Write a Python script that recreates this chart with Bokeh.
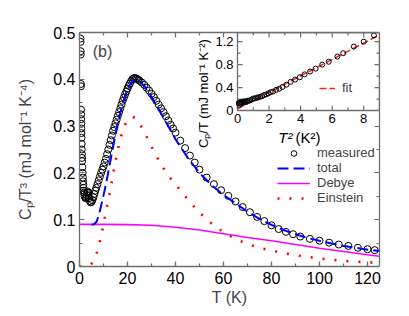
import math
from bokeh.plotting import figure
from bokeh.models import (Range1d, LinearAxis, SingleIntervalTicker, FixedTicker,
                          Legend, LegendItem, Label, CustomJSTickFormatter)
from bokeh.core.properties import value
from bokeh.embed import file_html
from bokeh.resources import INLINE

FONT = "Liberation Sans"
AX = "#6e6e6e"

# ---------------- main panel data ----------------
T_meas = [0.42, 0.45, 0.50, 0.52, 0.58, 0.60, 0.65, 0.68, 0.70, 0.73, 0.76, 0.80, 0.85,
          0.90, 0.95, 1.0, 1.05, 1.1, 1.2, 1.3, 1.4, 1.5, 1.6, 1.7, 1.8, 1.9, 2.0, 2.2,
          2.4, 2.6, 2.8, 3.0, 3.2, 3.4, 3.6, 3.8, 4.0, 4.3, 4.6, 5.0, 5.4, 5.8, 6.2, 6.6,
          7.0, 7.5, 8.0, 8.5, 9.0, 9.5, 10, 10.5, 11, 11.5, 12, 12.5, 13, 13.5, 14, 14.5,
          15, 15.5, 16, 16.5, 17, 17.5, 18, 18.5, 19, 19.5, 20, 20.5, 21, 21.5, 22, 22.5,
          23, 23.5, 24, 24.5, 25, 26, 27, 28, 29, 30, 31, 32, 33, 34, 35, 36, 37, 38, 39,
          40, 42, 44, 46, 48, 50, 53, 56, 59, 62, 65, 68, 71, 74, 77, 80, 83, 86, 89, 92,
          96, 100, 104, 108, 112, 116, 120, 123]
cp_meas = [0.487, 0.480, 0.460, 0.453, 0.390, 0.385, 0.335, 0.325, 0.315, 0.305, 0.295,
           0.285, 0.275, 0.262, 0.250, 0.240, 0.232, 0.225, 0.212, 0.200, 0.190, 0.182,
           0.175, 0.168, 0.162, 0.158, 0.155, 0.150, 0.147, 0.146, 0.148, 0.152, 0.157,
           0.160, 0.158, 0.152, 0.146, 0.140, 0.137, 0.138, 0.142, 0.148, 0.155, 0.162,
           0.168, 0.176, 0.184, 0.192, 0.200, 0.207, 0.214, 0.222, 0.230, 0.240, 0.250,
           0.260, 0.270, 0.280, 0.290, 0.298, 0.306, 0.314, 0.322, 0.330, 0.338, 0.346,
           0.354, 0.361, 0.368, 0.374, 0.380, 0.386, 0.391, 0.396, 0.400, 0.402, 0.403,
           0.402, 0.401, 0.399, 0.397, 0.393, 0.388, 0.382, 0.376, 0.369, 0.362, 0.354,
           0.346, 0.338, 0.330, 0.321, 0.312, 0.303, 0.295, 0.286, 0.269, 0.253, 0.237,
           0.222, 0.207, 0.190, 0.176, 0.163, 0.151, 0.139, 0.127, 0.116, 0.106, 0.097,
           0.088, 0.080, 0.074, 0.069, 0.064, 0.059, 0.055, 0.051, 0.047, 0.044, 0.040,
           0.037, 0.035]

T_total = [5, 6, 7, 8, 9, 10, 11, 12, 13, 14, 15, 16, 17, 18, 19, 20, 21, 22, 23, 24, 25,
           27, 30, 33, 36, 40, 45, 50, 55, 60, 65, 70, 75, 80, 85, 90, 95, 100, 105, 110,
           115, 120, 125]
cp_total = [0.090, 0.090, 0.095, 0.108, 0.130, 0.152, 0.175, 0.202, 0.229, 0.256, 0.282,
            0.306, 0.328, 0.348, 0.365, 0.378, 0.388, 0.395, 0.399, 0.399, 0.396, 0.386,
            0.362, 0.336, 0.309, 0.272, 0.233, 0.200, 0.174, 0.153, 0.135, 0.117, 0.102,
            0.089, 0.078, 0.069, 0.061, 0.055, 0.049, 0.044, 0.040, 0.036, 0.033]

T_debye = [0, 10, 20, 30, 40, 50, 60, 70, 80, 90, 100, 110, 120, 125]
cp_debye = [0.090, 0.090, 0.0895, 0.088, 0.084, 0.078, 0.070, 0.062, 0.055, 0.047, 0.039,
            0.032, 0.025, 0.022]

T_einstein = [0, 2, 4, 5, 6, 7, 8, 9, 10, 11, 12, 13, 14, 15, 16, 17, 18, 19, 20, 21, 22,
              23, 24, 25, 26, 28, 30, 32, 35, 38, 42, 46, 50, 55, 60, 65, 70, 75, 80, 90,
              100, 110, 120, 125]
cp_einstein = [0.0, 0.0, 0.002, 0.006, 0.014, 0.025, 0.043, 0.065, 0.090, 0.117, 0.142,
               0.168, 0.197, 0.225, 0.250, 0.272, 0.290, 0.303, 0.312, 0.318, 0.320, 0.318,
               0.313, 0.305, 0.297, 0.277, 0.256, 0.236, 0.210, 0.188, 0.163, 0.138, 0.115,
               0.092, 0.073, 0.059, 0.048, 0.040, 0.034, 0.024, 0.017, 0.012, 0.009, 0.008]

# ---------------- inset data ----------------
T2_inset = [0.08, 0.12, 0.16, 0.2, 0.25, 0.3, 0.36, 0.42, 0.49, 0.56, 0.64, 0.72, 0.81,
            0.9, 1.0, 1.1, 1.21, 1.32, 1.44, 1.56, 1.69, 1.82, 1.96, 2.1, 2.25, 2.45, 2.65,
            2.85, 3.1, 3.37, 3.65, 3.95, 4.25, 4.6, 4.95, 5.37, 5.78, 6.33, 6.7, 7.37, 8.0,
            8.65]
cpT_inset = [0.13, 0.10, 0.14, 0.12, 0.15, 0.13, 0.16, 0.14, 0.16, 0.15, 0.17, 0.17, 0.18,
             0.19, 0.21, 0.21, 0.22, 0.23, 0.24, 0.25, 0.27, 0.28, 0.30, 0.32, 0.33, 0.36,
             0.38, 0.41, 0.45, 0.50, 0.54, 0.58, 0.63, 0.68, 0.73, 0.80, 0.85, 0.94, 1.00,
             1.115, 1.20, 1.31]
fit_T2 = [0, 9]
fit_cpT = [0.03, 1.32]

main_x_ticks_top = [0, 20, 40, 60]
main_x_minor_top = [10, 30, 50]
main_y_ticks_right = [0.0, 0.1, 0.2, 0.3]
main_y_minor_right = [0.05, 0.15, 0.25]

inset_xlim = [0, 9]
inset_ylim = [0, 1.36]
inset_x_major = [0, 2, 4, 6, 8]
inset_x_minor = [1, 3, 5, 7]
inset_y_major = [0, 0.4, 0.8, 1.2]
inset_y_minor = [0.2, 0.6, 1.0]
inset_x_labels = ["0", "2", "4", "6", "8"]
inset_y_labels = ["0", "0.4", "0.8", "1.2"]

# ---------------- figure ----------------
FL, FT = 79, 32            # frame left/top on the page
FW, FH = 300, 234
FB = 48
W, H = FL + FW + 22, FT + FH + FB
p = figure(width=W, height=H, output_backend="svg",
           toolbar_location=None,
           x_range=Range1d(0, 125), y_range=Range1d(0, 0.5),
           min_border_left=FL, min_border_right=22, min_border_top=FT,
           min_border_bottom=FB, x_axis_location=None, y_axis_location=None)
p.grid.visible = False
p.outline_line_color = None
p.background_fill_color = "white"


def style(ax, fs="16px"):
    ax.axis_line_color = AX
    ax.axis_line_width = 1.3
    ax.major_tick_line_color = AX
    ax.minor_tick_line_color = AX
    ax.major_tick_line_width = 1.2
    ax.minor_tick_line_width = 1.2
    ax.major_tick_in = 5
    ax.major_tick_out = 0
    ax.minor_tick_in = 3
    ax.minor_tick_out = 0
    ax.major_label_text_font = FONT
    ax.major_label_text_font_size = fs
    ax.major_label_text_color = "black"


blank = CustomJSTickFormatter(code="return ''")

xb = LinearAxis(ticker=SingleIntervalTicker(interval=20, num_minor_ticks=2))
style(xb)
xb.major_label_standoff = 5
xb.axis_label = "T (K)"
xb.axis_label_text_font = FONT
xb.axis_label_text_font_size = "16px"
xb.axis_label_text_font_style = "normal"
xb.axis_label_standoff = 2
p.add_layout(xb, "below")

yl = LinearAxis(ticker=SingleIntervalTicker(interval=0.1, num_minor_ticks=2),
                formatter=CustomJSTickFormatter(code="return tick == 0 ? '0' : tick.toFixed(1)"))
style(yl)
yl.major_label_standoff = 4
yl.axis_label = "Cₚ/T³ (mJ mol⁻¹ K⁻⁴)"
yl.axis_label_text_font = FONT
yl.axis_label_text_font_size = "16px"
yl.axis_label_text_font_style = "normal"
yl.axis_label_standoff = 16
p.add_layout(yl, "left")

xt = LinearAxis(ticker=FixedTicker(ticks=main_x_ticks_top, minor_ticks=main_x_minor_top),
                formatter=blank)
style(xt)
xt.major_label_standoff = 0
p.add_layout(xt, "above")

yr = LinearAxis(ticker=FixedTicker(ticks=main_y_ticks_right, minor_ticks=main_y_minor_right),
                formatter=blank)
style(yr)
yr.major_label_standoff = 0
p.add_layout(yr, "right")

# main curves
r_meas = p.scatter(T_meas, cp_meas, marker="circle", size=7, fill_color=None,
                   line_color="black", line_width=1)
r_deb = p.line(T_debye, cp_debye, line_color="#ff00ff", line_width=1.6)
r_ein = p.line(T_einstein, cp_einstein, line_color="#ff0000", line_width=2.6,
               line_dash="2 10")
r_tot = p.line(T_total, cp_total, line_color="#0000ff", line_width=2, line_dash="11 5")

leg = Legend(items=[LegendItem(label="measured", renderers=[r_meas]),
                    LegendItem(label="total", renderers=[r_tot]),
                    LegendItem(label="Debye", renderers=[r_deb]),
                    LegendItem(label="Einstein", renderers=[r_ein])],
             location=(198, 61), orientation="vertical")
leg.glyph_width = 33
leg.glyph_height = 14
leg.label_height = 14
leg.label_standoff = 7
leg.spacing = 0
leg.padding = 0
leg.margin = 0
leg.border_line_color = None
leg.background_fill_alpha = 0
leg.label_text_font = FONT
leg.label_text_font_size = "13px"
leg.label_text_baseline = "middle"
p.add_layout(leg)

# ---------------- inset ----------------
xr0 = inset_xlim[0] - (237 - 79) / (FW - (237 - 79)) * (inset_xlim[1] - inset_xlim[0])
yr0 = inset_ylim[1] - FH / (110 - 32) * (inset_ylim[1] - inset_ylim[0])
p.extra_x_ranges = {"ix": Range1d(xr0, inset_xlim[1])}
p.extra_y_ranges = {"iy": Range1d(yr0, inset_ylim[1])}
kx = (inset_xlim[1] - xr0) / FW       # inset x units per pixel
ky = (inset_ylim[1] - yr0) / FH       # inset y units per pixel
I = dict(x_range_name="ix", y_range_name="iy")

p.quad(left=[inset_xlim[0]], right=[inset_xlim[1]], bottom=[inset_ylim[0]],
       top=[inset_ylim[1]], fill_color="white", line_color=AX, line_width=1.3, **I)


def xticks(vals, L):
    x0, x1, y0, y1 = [], [], [], []
    for v in vals:
        x0 += [v, v]; x1 += [v, v]
        y0 += [inset_ylim[0], inset_ylim[1]]
        y1 += [inset_ylim[0] + L * ky, inset_ylim[1] - L * ky]
    p.segment(x0, y0, x1, y1, line_color=AX, line_width=1.2, **I)


def yticks(vals, L):
    x0, x1, y0, y1 = [], [], [], []
    for v in vals:
        y0 += [v, v]; y1 += [v, v]
        x0 += [inset_xlim[0], inset_xlim[1]]
        x1 += [inset_xlim[0] + L * kx, inset_xlim[1] - L * kx]
    p.segment(x0, y0, x1, y1, line_color=AX, line_width=1.2, **I)


xticks(inset_x_major, 5)
xticks(inset_x_minor, 3)
yticks(inset_y_major, 5)
yticks(inset_y_minor, 3)

p.text(x=[inset_xlim[0]] * len(inset_y_major), y=inset_y_major, text=inset_y_labels,
       x_offset=-4, text_align="right", text_baseline="middle",
       text_font=value(FONT), text_font_size="13px", text_color="black", **I)
p.text(x=inset_x_major, y=[inset_ylim[0]] * len(inset_x_major), text=inset_x_labels,
       y_offset=3, text_align="center", text_baseline="top",
       text_font=value(FONT), text_font_size="13px", text_color="black", **I)

r_fit = p.line(fit_T2, fit_cpT, line_color="#ff2020", line_width=1.5, line_dash="7 3", **I)
p.scatter(T2_inset, cpT_inset, marker="circle", size=5, fill_color=None,
          line_color="black", line_width=1, **I)

# inset axis labels
p.text(x=[inset_xlim[0] - 34 * kx], y=[inset_ylim[0] + 17 * ky],
       text=["Cₚ/T (mJ mol⁻¹ K⁻²)"], angle=math.pi / 2, text_align="center",
       text_baseline="middle", text_font=value(FONT), text_font_size="13px",
       text_color="black", **I)
p.text(x=[inset_xlim[0] + 55 * kx], y=[inset_ylim[0] - 27 * ky], text=["T²"],
       text_align="right", text_baseline="middle", text_font=value(FONT),
       text_font_size="15px", text_font_style="italic", text_color="black", **I)
p.text(x=[inset_xlim[0] + 58 * kx], y=[inset_ylim[0] - 27 * ky], text=["(K²)"],
       text_align="left", text_baseline="middle", text_font=value(FONT),
       text_font_size="15px", text_color="black", **I)

leg2 = Legend(items=[LegendItem(label="fit", renderers=[r_fit])], location=(240, 171))
leg2.glyph_width = 16
leg2.glyph_height = 14
leg2.label_height = 14
leg2.label_standoff = 7
leg2.padding = 0
leg2.margin = 0
leg2.border_line_color = None
leg2.background_fill_alpha = 0
leg2.label_text_font = FONT
leg2.label_text_font_size = "13px"
p.add_layout(leg2)

p.add_layout(Label(x=9.6, y=0.46, text="(b)", text_align="center", text_baseline="middle",
                   text_font=FONT, text_font_size="16px"))

open("out.html", "w").write(file_html(p, INLINE))
